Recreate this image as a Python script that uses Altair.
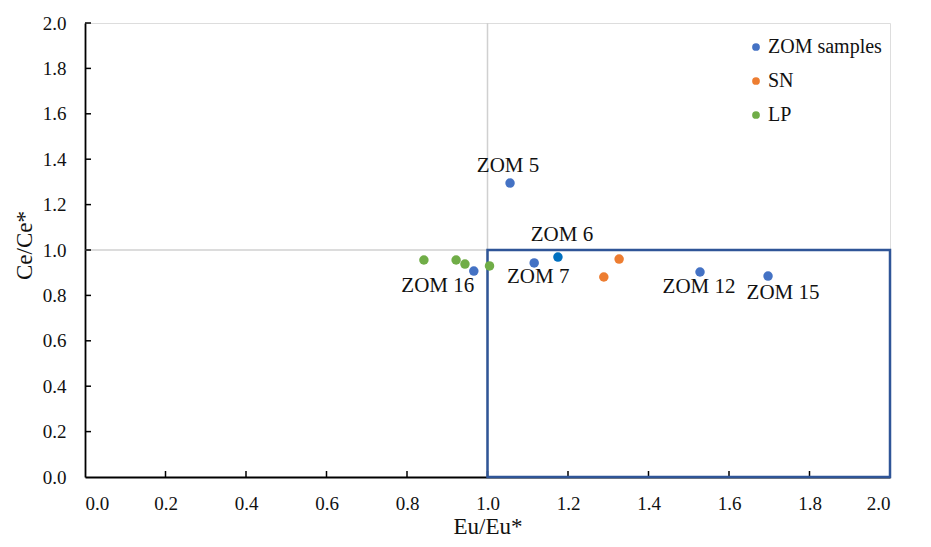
import altair as alt
import pandas as pd

# ---- data ----
zom_names = ["ZOM 5", "ZOM 7", "ZOM 16", "ZOM 12", "ZOM 15"]
zom_x = [1.056, 1.116, 0.966, 1.528, 1.697]
zom_y = [1.295, 0.943, 0.907, 0.903, 0.885]

zom6_name = ["ZOM 6"]
zom6_x = [1.175]
zom6_y = [0.969]

sn_x = [1.327, 1.289]
sn_y = [0.960, 0.881]

lp_x = [0.842, 0.922, 0.944, 1.005]
lp_y = [0.956, 0.956, 0.938, 0.930]

groups = ["ZOM samples", "SN", "LP"]
group_colors = ["#4472C4", "#ED7D31", "#70AD47"]

ref_value = [1.0]
box_x = [1.0]
box_x2 = [2.0]
box_y = [0.0]
box_y2 = [1.0]

tick_values = [0.0, 0.2, 0.4, 0.6, 0.8, 1.0, 1.2, 1.4, 1.6, 1.8, 2.0]

# per-label pixel offsets (style)
label_offsets = {
    "ZOM 5": (-2, -17),
    "ZOM 6": (4, -22),
    "ZOM 7": (4, 14),
    "ZOM 16": (-36, 15),
    "ZOM 12": (-1, 15),
    "ZOM 15": (15, 17),
}

FONT = "Liberation Serif"
W, H = 805, 454

xscale = alt.Scale(domain=[0, 2], nice=False, zero=False)
yscale = alt.Scale(domain=[0, 2], nice=False, zero=False)

points_df = pd.DataFrame({
    "x": zom_x + sn_x + lp_x,
    "y": zom_y + sn_y + lp_y,
    "group": ["ZOM samples"] * len(zom_x) + ["SN"] * len(sn_x) + ["LP"] * len(lp_x),
})
labels_df = pd.DataFrame({"name": zom_names + zom6_name, "x": zom_x + zom6_x, "y": zom_y + zom6_y})
zom6_df = pd.DataFrame({"x": zom6_x, "y": zom6_y})
ref_df = pd.DataFrame({"v": ref_value, "lo": [0.0], "hi": [2.0]})
box_df = pd.DataFrame({"x": box_x, "x2": box_x2, "y": box_y, "y2": box_y2})
ticks_df = pd.DataFrame({"t": tick_values[1:]})

x_axis = alt.Axis(
    values=tick_values, format=".1f", title="Eu/Eu*", grid=False,
    tickSize=0, labelPadding=17, labelFont=FONT, labelFontSize=19, labelColor="#111",
    domainColor="#000", domainWidth=1.8,
    titleFont=FONT, titleFontSize=23, titleFontWeight="normal", titleColor="#111",
    titleY=56, titleBaseline="alphabetic",
)
y_axis = alt.Axis(
    values=tick_values, format=".1f", title="Ce/Ce*", grid=False,
    tickSize=0, labelPadding=19, labelFont=FONT, labelFontSize=19, labelColor="#111",
    domainColor="#000", domainWidth=1.8,
    titleFont=FONT, titleFontSize=23, titleFontWeight="normal", titleColor="#111",
    titleX=-61, titleY=222, titleAngle=270, titleAlign="center", titleBaseline="middle",
)

# reference gridlines at 1.0
vline = alt.Chart(ref_df).mark_rule(color="#D0D0D0", strokeWidth=1.5).encode(
    x=alt.X("v:Q", scale=xscale, axis=x_axis),
    y=alt.Y("lo:Q", scale=yscale, axis=y_axis),
    y2="hi:Q",
)
hline = alt.Chart(ref_df).mark_rule(color="#D0D0D0", strokeWidth=1.5).encode(
    y=alt.Y("v:Q", scale=yscale),
    x=alt.X("lo:Q", scale=xscale),
    x2="hi:Q",
)

# inner ticks
yticks = alt.Chart(ticks_df).mark_rule(color="#000", strokeWidth=1.5).encode(
    y=alt.Y("t:Q", scale=yscale), x=alt.value(0), x2=alt.value(6)
)
xticks = alt.Chart(ticks_df).mark_rule(color="#000", strokeWidth=1.5).encode(
    x=alt.X("t:Q", scale=xscale), y=alt.value(H), y2=alt.value(H - 6)
)

box = alt.Chart(box_df).mark_rect(filled=False, stroke="#2F5597", strokeWidth=2.5).encode(
    x=alt.X("x:Q", scale=xscale), x2="x2:Q",
    y=alt.Y("y:Q", scale=yscale), y2="y2:Q",
)

pts = alt.Chart(points_df).mark_circle(size=90, opacity=1).encode(
    x=alt.X("x:Q", scale=xscale),
    y=alt.Y("y:Q", scale=yscale),
    color=alt.Color(
        "group:N",
        scale=alt.Scale(domain=groups, range=group_colors),
        legend=alt.Legend(
            title=None, orient="none", legendX=661, legendY=14,
            symbolType="circle", symbolSize=60, labelFont=FONT, labelFontSize=20,
            labelColor="#111", rowPadding=14, labelOffset=2, padding=0,
        ),
    ),
)
zom6 = alt.Chart(zom6_df).mark_circle(size=90, opacity=1, color="#0070C0").encode(
    x=alt.X("x:Q", scale=xscale), y=alt.Y("y:Q", scale=yscale)
)

label_layers = []
for name, (dx, dy) in label_offsets.items():
    label_layers.append(
        alt.Chart(labels_df).transform_filter(alt.datum.name == name).mark_text(
            font=FONT, fontSize=21, color="#111", dx=dx, dy=dy,
            align="center", baseline="middle",
        ).encode(
            x=alt.X("x:Q", scale=xscale), y=alt.Y("y:Q", scale=yscale), text="name:N"
        )
    )

chart = alt.layer(vline, hline, yticks, xticks, box, pts, zom6, *label_layers).properties(
    width=W, height=H, autosize="none",
    padding={"left": 77, "top": 15, "right": 30, "bottom": 62},
).configure_view(stroke=None).configure(background="white")

chart.save("out.html", embed_options={"renderer": "svg", "actions": False})
